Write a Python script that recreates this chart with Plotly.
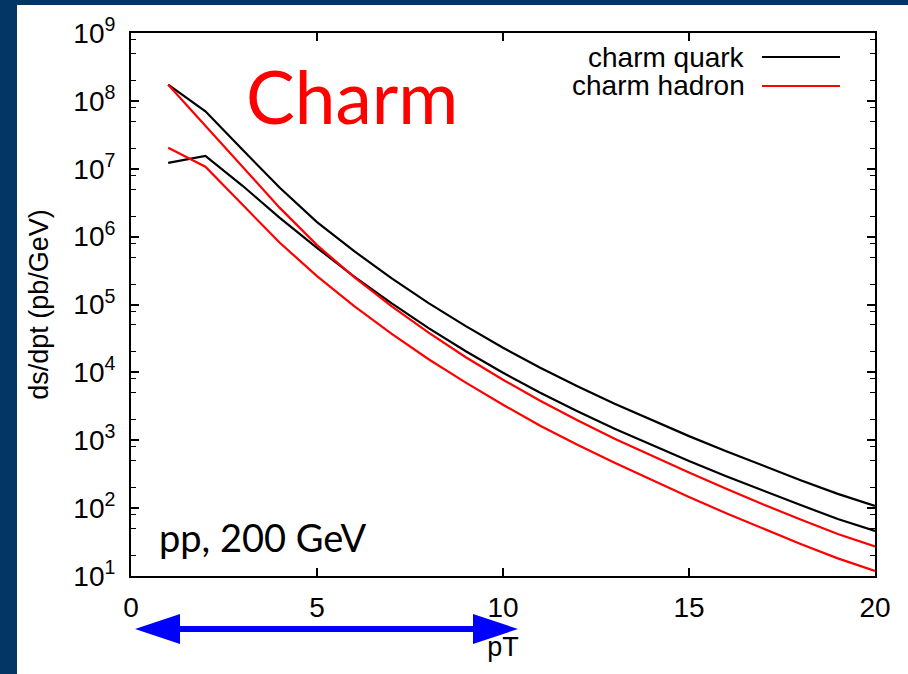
import plotly.graph_objects as go

# pT grid (GeV) and differential cross sections d(sigma)/dpT in pb/GeV
pt = list(range(1, 21))
quark_upper = [1.73e8, 7.03e7, 1.90e7, 5.24e6, 1.64e6, 6.11e5, 2.44e5, 1.05e5, 4.80e4, 2.31e4,
               1.17e4, 6.25e3, 3.45e3, 1.97e3, 1.15e3, 689, 418, 258, 162, 108]
quark_lower = [1.22e7, 1.55e7, 5.61e6, 1.89e6, 6.84e5, 2.57e5, 1.05e5, 4.48e4, 2.05e4, 9.89e3,
               5.02e3, 2.68e3, 1.48e3, 859, 494, 295, 179, 111, 69.2, 46.1]
hadron_upper = [1.73e8, 4.30e7, 1.07e7, 2.65e6, 7.50e5, 2.53e5, 9.45e4, 3.85e4, 1.67e4, 7.80e3,
                3.83e3, 1.97e3, 1.05e3, 591, 334, 193, 113, 68.1, 41.6, 27.2]
hadron_lower = [2.04e7, 1.07e7, 2.94e6, 8.11e5, 2.62e5, 9.45e4, 3.72e4, 1.56e4, 7.05e3, 3.34e3,
                1.64e3, 859, 466, 259, 146, 84.0, 49.3, 29.7, 18.2, 11.9]

series_names = ["charm quark", "charm hadron"]
series_colors = ["#000000", "#ff0000"]

x_ticks = [0, 5, 10, 15, 20]
y_exponents = list(range(1, 10))
y_ticks = [10.0 ** e for e in y_exponents]
y_ticktext = [f"10<sup>{e}</sup>" for e in y_exponents]
y_minor = [m * 10.0 ** e for e in range(1, 9) for m in (2, 5, 8)]

W, H = 908, 674
PL, PR, PT, PB = 131, 875, 33, 576


def fx(x):
    return (x - PL) / (PR - PL)


def fy(y):
    return (PB - y) / (PB - PT)


fig = go.Figure()
curves = [
    (quark_upper, 0), (quark_lower, 0),
    (hadron_upper, 1), (hadron_lower, 1),
]
for ys, k in curves:
    fig.add_trace(go.Scatter(
        x=pt, y=ys, mode="lines", name=series_names[k],
        line=dict(color=series_colors[k], width=2.2),
        showlegend=False, hoverinfo="skip",
    ))

sans = "Liberation Sans, Arial, sans-serif"
axis_font = dict(family=sans, size=28, color="black")

shapes = [
    # white slide panel behind the chart
    dict(type="rect", xref="paper", yref="paper", layer="below",
         x0=fx(17), x1=fx(908), y0=fy(674), y1=fy(5),
         fillcolor="white", line=dict(width=0)),
]
# legend samples
for i, c in enumerate(series_colors):
    yy = 57 + 29 * i
    shapes.append(dict(type="line", xref="paper", yref="paper",
                       x0=fx(762), x1=fx(840), y0=fy(yy), y1=fy(yy),
                       line=dict(color=c, width=2.2)))

# double-headed blue arrow under the axis
arrow_y = 629
shapes.append(dict(type="line", xref="paper", yref="paper",
                   x0=fx(176), x1=fx(477), y0=fy(arrow_y), y1=fy(arrow_y),
                   line=dict(color="#0000ff", width=6)))
left_head = f"M {fx(135)},{fy(arrow_y)} L {fx(180)},{fy(614)} L {fx(180)},{fy(644)} Z"
right_head = f"M {fx(518)},{fy(arrow_y)} L {fx(473)},{fy(614)} L {fx(473)},{fy(644)} Z"
for p in (left_head, right_head):
    shapes.append(dict(type="path", xref="paper", yref="paper", path=p,
                       fillcolor="#0000ff", line=dict(width=0)))

annotations = []
for i, name in enumerate(series_names):
    annotations.append(dict(
        text=name, xref="paper", yref="paper", x=fx(747), y=fy(57 + 29 * i),
        xanchor="right", yanchor="middle", showarrow=False,
        font=dict(family=sans, size=28, color="black"),
    ))
annotations.append(dict(
    text="Charm", xref="paper", yref="paper", x=fx(244), y=fy(96),
    xanchor="left", yanchor="middle", showarrow=False,
    font=dict(family="Lato, sans-serif", size=73, color="#ff0000"),
))
annotations.append(dict(
    text="pp, 200 GeV", xref="paper", yref="paper", x=fx(157), y=fy(537),
    xanchor="left", yanchor="middle", showarrow=False,
    font=dict(family="Lato, sans-serif", size=38, color="black"),
))

fig.update_layout(
    width=W, height=H,
    margin=dict(l=PL, r=W - PR, t=PT, b=H - PB, autoexpand=False),
    paper_bgcolor="#033565",
    plot_bgcolor="white",
    shapes=shapes,
    annotations=annotations,
    xaxis=dict(
        range=[0, 20], tickvals=x_ticks, ticks="inside", ticklen=8, tickwidth=1.5,
        tickcolor="black", showline=True, linecolor="black", linewidth=2,
        mirror="ticks", showgrid=False, zeroline=False, tickfont=axis_font,
        ticklabelstandoff=5,
        title=dict(text="pT", font=dict(family=sans, size=27, color="black"), standoff=16),
    ),
    yaxis=dict(
        type="log", range=[1, 9], tickvals=y_ticks, ticktext=y_ticktext,
        ticks="inside", ticklen=8, tickwidth=1.5, tickcolor="black",
        showline=True, linecolor="black", linewidth=2, mirror="ticks",
        showgrid=False, zeroline=False, tickfont=axis_font,
        ticklabelstandoff=8,
        minor=dict(tickvals=y_minor, ticks="inside", ticklen=5, tickwidth=1.2,
                   tickcolor="black", showgrid=False),
        title=dict(text="ds/dpt (pb/GeV)", font=dict(family=sans, size=27, color="black"),
                   standoff=17),
    ),
)

fig.write_html("out.html")
